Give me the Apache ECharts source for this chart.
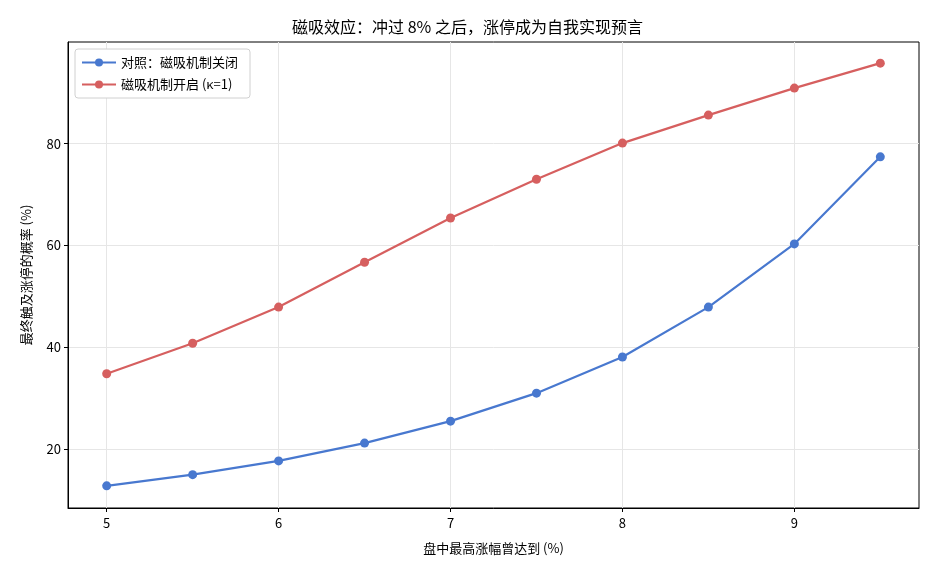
<!DOCTYPE html>
<html>
<head>
<meta charset="utf-8">
<script src="https://cdn.jsdelivr.net/npm/echarts@6/dist/echarts.min.js"></script>
<style>
  html, body { margin: 0; padding: 0; background: #fff; }
  #main { width: 935px; height: 572px; }
</style>
</head>
<body>
<div id="main"></div>
<script>
// 数据
var xValues = [5, 5.5, 6, 6.5, 7, 7.5, 8, 8.5, 9, 9.5];
var offSeries = [12.8, 15.0, 17.7, 21.2, 25.5, 31.0, 38.1, 47.9, 60.3, 77.4];
var onSeries = [34.8, 40.8, 47.9, 56.7, 65.4, 73.0, 80.1, 85.6, 90.9, 95.8];
var xTicks = [5, 6, 7, 8, 9];
var yTicks = [20, 40, 60, 80];

var font = '"Noto Sans CJK SC", "Noto Sans", sans-serif';

function pairs(ys) {
    return xValues.map(function (x, i) { return [x, ys[i]]; });
}

var chartDom = document.getElementById('main');
var myChart = echarts.init(chartDom);
var option;

option = {
    animation: false,
    title: {
        text: '磁吸效应：冲过 8% 之后，涨停成为自我实现预言',
        left: 'center',
        top: 14,
        textStyle: { fontFamily: font, fontSize: 16, fontWeight: 'normal', color: '#000' }
    },
    legend: {
        orient: 'vertical',
        left: 75,
        top: 49,
        itemWidth: 34,
        itemHeight: 10,
        itemGap: 9,
        padding: [7, 12, 7, 6],
        backgroundColor: '#fff',
        borderColor: '#d0d0d0',
        borderWidth: 1,
        borderRadius: 3,
        textStyle: { fontFamily: font, fontSize: 13, color: '#000' },
        data: ['对照：磁吸机制关闭', '磁吸机制开启 (κ=1)']
    },
    grid: {
        left: 68,
        right: 16,
        top: 42,
        bottom: 64,
        show: true,
        borderColor: '#000',
        borderWidth: 1
    },
    xAxis: {
        type: 'value',
        min: 4.775,
        max: 9.725,
        name: '盘中最高涨幅曾达到 (%)',
        nameLocation: 'middle',
        nameGap: 34,
        nameTextStyle: { fontFamily: font, fontSize: 13, color: '#000' },
        axisLine: { show: true, onZero: false, lineStyle: { color: '#000' } },
        axisTick: { show: true, customValues: xTicks, length: 4, lineStyle: { color: '#000' } },
        axisLabel: { customValues: xTicks, fontFamily: font, fontSize: 13, color: '#000', margin: 9 },
        splitLine: { show: true, lineStyle: { color: '#e6e6e6', width: 1 } }
    },
    yAxis: {
        type: 'value',
        min: 8.45,
        max: 99.95,
        name: '最终触及涨停的概率 (%)',
        nameLocation: 'middle',
        nameGap: 35,
        nameTextStyle: { fontFamily: font, fontSize: 13, color: '#000' },
        axisLine: { show: true, onZero: false, lineStyle: { color: '#000' } },
        axisTick: { show: true, customValues: yTicks, length: 4, lineStyle: { color: '#000' } },
        axisLabel: { customValues: yTicks, fontFamily: font, fontSize: 13, color: '#000', margin: 7 },
        splitLine: { show: true, lineStyle: { color: '#e6e6e6', width: 1 } }
    },
    series: [
        {
            name: '对照：磁吸机制关闭',
            type: 'line',
            data: pairs(offSeries),
            symbol: 'circle',
            symbolSize: 9,
            lineStyle: { color: '#4878CF', width: 2.2 },
            itemStyle: { color: '#4878CF' }
        },
        {
            name: '磁吸机制开启 (κ=1)',
            type: 'line',
            data: pairs(onSeries),
            symbol: 'circle',
            symbolSize: 9,
            lineStyle: { color: '#D65F5F', width: 2.2 },
            itemStyle: { color: '#D65F5F' }
        }
    ]
};

option && myChart.setOption(option);
</script>
</body>
</html>
